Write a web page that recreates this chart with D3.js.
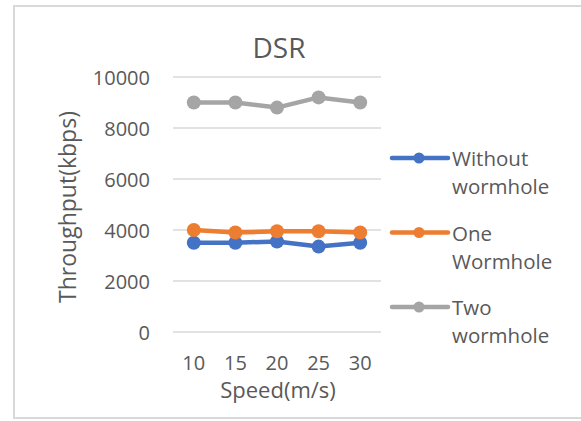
<!DOCTYPE html>
<html>
<head>
<meta charset="utf-8">
<script src="https://cdn.jsdelivr.net/npm/d3@7"></script>
<style>
  body { margin: 0; background: #fff; }
  text { font-family: "Open Sans", Lato, sans-serif; fill: #595959; }
</style>
</head>
<body>
<svg id="chart" width="581" height="421"></svg>
<script>
// Chart data
const speeds = ["10", "15", "20", "25", "30"];
const withoutWormhole = [3500, 3500, 3550, 3350, 3500];
const oneWormhole = [4000, 3900, 3950, 3950, 3900];
const twoWormhole = [9000, 9000, 8800, 9200, 9000];
const seriesNames = ["Without wormhole", "One Wormhole", "Two wormhole"];
const yTicks = [0, 2000, 4000, 6000, 8000, 10000];

const series = [
  { name: seriesNames[0], label: ["Without", "wormhole"], values: withoutWormhole, color: "#4472c4" },
  { name: seriesNames[1], label: ["One", "Wormhole"], values: oneWormhole, color: "#ed7d31" },
  { name: seriesNames[2], label: ["Two", "wormhole"], values: twoWormhole, color: "#a5a5a5" },
];

const svg = d3.select("#chart");

// outer frame (right edge is cropped in the original)
svg.append("path")
  .attr("d", "M590,6 H14 V418 H590")
  .attr("fill", "none")
  .attr("stroke", "#d9d9d9")
  .attr("stroke-width", 2);

const plot = { left: 173, right: 381, top: 77, bottom: 332 };

const x = d3.scaleBand().domain(speeds).range([plot.left, plot.right]);
const y = d3.scaleLinear().domain([0, 10000]).range([plot.bottom, plot.top]);

// gridlines
svg.append("g")
  .selectAll("line")
  .data(yTicks)
  .enter()
  .append("line")
  .attr("x1", plot.left)
  .attr("x2", plot.right)
  .attr("y1", (d) => y(d))
  .attr("y2", (d) => y(d))
  .attr("stroke", "#d9d9d9")
  .attr("stroke-width", 1.5);

// y axis labels
const yAxis = svg.append("g")
  .attr("transform", `translate(${plot.left - 23},0)`)
  .call(d3.axisLeft(y).tickValues(yTicks).tickFormat(d3.format("d")).tickSize(0).tickPadding(0));
yAxis.select(".domain").remove();
yAxis.selectAll("text")
  .style("font-size", "20px")
  .attr("fill", "#595959")
  .attr("dy", "0.36em");

// x axis labels
const xAxis = svg.append("g")
  .attr("transform", `translate(0,${plot.bottom + 38})`)
  .call(d3.axisBottom(x).tickSize(0).tickPadding(0));
xAxis.select(".domain").remove();
xAxis.selectAll("text")
  .style("font-size", "20px")
  .attr("fill", "#595959")
  .attr("dy", 0);

// titles
svg.append("text")
  .attr("x", 279)
  .attr("y", 58)
  .attr("text-anchor", "middle")
  .style("font-size", "28px")
  .text("DSR");

svg.append("text")
  .attr("x", 278)
  .attr("y", 398)
  .attr("text-anchor", "middle")
  .style("font-size", "22px")
  .text("Speed(m/s)");

svg.append("text")
  .attr("transform", "translate(76,207) rotate(-90)")
  .attr("text-anchor", "middle")
  .style("font-size", "23px")
  .text("Throughput(kbps)");

// lines
const line = d3.line()
  .x((d, i) => x(speeds[i]) + x.bandwidth() / 2)
  .y((d) => y(d));

const lines = svg.append("g");
series.forEach((s) => {
  lines.append("path")
    .attr("d", line(s.values))
    .attr("fill", "none")
    .attr("stroke", s.color)
    .attr("stroke-width", 4.5)
    .attr("stroke-linejoin", "round");
  lines.selectAll(null)
    .data(s.values)
    .enter()
    .append("circle")
    .attr("cx", (d, i) => x(speeds[i]) + x.bandwidth() / 2)
    .attr("cy", (d) => y(d))
    .attr("r", 7)
    .attr("fill", s.color);
});

// legend
const legend = svg.append("g")
  .selectAll("g")
  .data(series)
  .enter()
  .append("g")
  .attr("transform", (d, i) => `translate(392,${158 + i * 74.5})`);

legend.append("line")
  .attr("x1", 0)
  .attr("x2", 56)
  .attr("stroke", (d) => d.color)
  .attr("stroke-width", 4.5)
  .attr("stroke-linecap", "round");
legend.append("circle")
  .attr("cx", 27)
  .attr("r", 5.5)
  .attr("fill", (d) => d.color);
legend.append("text")
  .attr("x", 60)
  .attr("y", 8)
  .style("font-size", "20.5px")
  .selectAll("tspan")
  .data((d) => d.label)
  .enter()
  .append("tspan")
  .attr("x", 60)
  .attr("dy", (d, i) => (i === 0 ? 0 : 28))
  .text((d) => d);
</script>
</body>
</html>
